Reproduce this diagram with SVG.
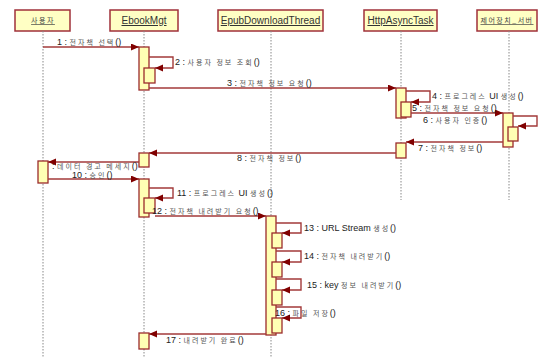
<svg xmlns="http://www.w3.org/2000/svg" width="539" height="357" viewBox="0 0 539 357">
<style>
.hdr{fill:#ffffc4;stroke:#a0303a;stroke-width:1.5}
.hn{font-family:"Liberation Sans",Arial,sans-serif;font-size:10px;fill:#333;text-anchor:middle;text-decoration:underline}
.hk{font-family:"Noto Sans CJK KR",sans-serif;font-size:7px;fill:#444;text-anchor:middle;letter-spacing:1.5px;text-decoration:underline}
.life{stroke:#888;stroke-width:1;stroke-dasharray:1.5,1.5;fill:none}
.act{fill:#ffffb4;stroke:#9b2c2c;stroke-width:1.3}
.msg{stroke:#a33a3a;stroke-width:1.4;fill:none}
.lbl{font-family:"Liberation Sans",Arial,sans-serif;font-size:9px;fill:#222}
.k{font-family:"Noto Sans CJK KR",sans-serif;font-size:7px;fill:#555;letter-spacing:2px}
</style>
<defs>
<marker id="ah" markerUnits="userSpaceOnUse" markerWidth="9" markerHeight="8" refX="8" refY="3.5" orient="auto">
<path d="M0,0 L8,3.5 L0,7 z" fill="#800000"/>
</marker>
</defs>
<rect width="539" height="357" fill="#fff"/>

<g id="node-user">
<rect class="hdr" x="15" y="10" width="55" height="21"/>
<text class="hk" x="43" y="23">사용자</text>
<line class="life" x1="43" y1="31" x2="43" y2="357"/>
<rect class="act" x="38" y="161" width="10" height="22"/>
</g>

<g id="node-ebookmgt">
<rect class="hdr" x="110" y="10" width="68" height="21"/>
<text class="hn" x="144" y="24">EbookMgt</text>
<line class="life" x1="144" y1="31" x2="144" y2="357"/>
<rect class="act" x="139" y="47" width="10" height="43"/>
<rect class="act" x="144" y="68" width="11" height="15"/>
<rect class="act" x="139" y="153" width="10" height="14"/>
<rect class="act" x="139" y="179" width="10" height="38"/>
<rect class="act" x="144" y="198" width="11" height="15"/>
<rect class="act" x="139" y="333" width="10" height="16"/>
</g>

<g id="node-epub">
<rect class="hdr" x="218" y="10" width="105" height="21"/>
<text class="hn" x="270.5" y="24">EpubDownloadThread</text>
<line class="life" x1="271" y1="31" x2="271" y2="357"/>
<rect class="act" x="266" y="216" width="10" height="119"/>
<rect class="act" x="272" y="233" width="10" height="15"/>
<rect class="act" x="272" y="262" width="10" height="15"/>
<rect class="act" x="272" y="290" width="10" height="15"/>
<rect class="act" x="272" y="318" width="10" height="15"/>
</g>

<g id="node-http">
<rect class="hdr" x="364" y="10" width="73" height="21"/>
<text class="hn" x="400.5" y="24">HttpAsyncTask</text>
<line class="life" x1="401" y1="31" x2="401" y2="200"/>
<rect class="act" x="396" y="88" width="10" height="30"/>
<rect class="act" x="401" y="102" width="10" height="15"/>
<rect class="act" x="396" y="143" width="10" height="15"/>
</g>

<g id="node-server">
<rect class="hdr" x="477" y="10" width="60" height="21"/>
<text class="hk" x="507" y="23">제어장치_서버</text>
<line class="life" x1="509" y1="31" x2="509" y2="200"/>
<rect class="act" x="503" y="113" width="10" height="34"/>
<rect class="act" x="508" y="127" width="10" height="14"/>
</g>

<g id="connectors">
<line class="msg" x1="43" y1="47" x2="139" y2="47" marker-end="url(#ah)"/>
<path class="msg" d="M149,57 H173 V68 H155" marker-end="url(#ah)"/>
<line class="msg" x1="149" y1="88" x2="396" y2="88" marker-end="url(#ah)"/>
<path class="msg" d="M406,91 H430 V102 H411" marker-end="url(#ah)"/>
<line class="msg" x1="411" y1="113" x2="503" y2="113" marker-end="url(#ah)"/>
<path class="msg" d="M513,116 H537 V126 H518" marker-end="url(#ah)"/>
<line class="msg" x1="503" y1="142" x2="406" y2="142" marker-end="url(#ah)"/>
<line class="msg" x1="396" y1="153" x2="149" y2="153" marker-end="url(#ah)"/>
<line class="msg" x1="139" y1="162" x2="48" y2="162" marker-end="url(#ah)"/>
<line class="msg" x1="48" y1="179" x2="139" y2="179" marker-end="url(#ah)"/>
<path class="msg" d="M149,188 H173 V198 H155" marker-end="url(#ah)"/>
<line class="msg" x1="155" y1="216" x2="266" y2="216" marker-end="url(#ah)"/>
<path class="msg" d="M276,223 H301 V233 H282" marker-end="url(#ah)"/>
<path class="msg" d="M276,251 H301 V262 H282" marker-end="url(#ah)"/>
<path class="msg" d="M276,279 H301 V290 H282" marker-end="url(#ah)"/>
<path class="msg" d="M276,307 H301 V318 H282" marker-end="url(#ah)"/>
<line class="msg" x1="266" y1="334" x2="149" y2="334" marker-end="url(#ah)"/>
</g>

<g id="labels">
<text class="lbl" x="57" y="45">1 : <tspan class="k">전자책 선택</tspan>()</text>
<text class="lbl" x="175" y="65">2 : <tspan class="k">사용자 정보 조회</tspan>()</text>
<text class="lbl" x="227" y="86">3 : <tspan class="k">전자책 정보 요청</tspan>()</text>
<text class="lbl" x="432" y="99">4 : <tspan class="k">프로그레스</tspan> UI <tspan class="k">생성</tspan>()</text>
<text class="lbl" x="412" y="111">5 : <tspan class="k">전자책 정보 요청</tspan>()</text>
<text class="lbl" x="423" y="123">6 : <tspan class="k">사용자 인증</tspan>()</text>
<text class="lbl" x="418" y="151">7 : <tspan class="k">전자책 정보</tspan>()</text>
<text class="lbl" x="237" y="161">8 : <tspan class="k">전자책 정보</tspan>()</text>
<text class="lbl" x="52" y="168.5">: <tspan class="k">데이터 경고 메세지</tspan>()</text>
<text class="lbl" x="72" y="177.5">10 : <tspan class="k">승인</tspan>()</text>
<text class="lbl" x="177" y="196">11 : <tspan class="k">프로그레스</tspan> UI <tspan class="k">생성</tspan>()</text>
<text class="lbl" x="152" y="214">12 : <tspan class="k">전자책 내려받기 요청</tspan>()</text>
<text class="lbl" x="304" y="231">13 : URL Stream <tspan class="k">생성</tspan>()</text>
<text class="lbl" x="304" y="259">14 : <tspan class="k">전자책 내려받기</tspan>()</text>
<text class="lbl" x="307" y="288">15 : key <tspan class="k">정보 내려받기</tspan>()</text>
<text class="lbl" x="275" y="316">16 : <tspan class="k">파일 저장</tspan>()</text>
<text class="lbl" x="166" y="343">17 : <tspan class="k">내려받기 완료</tspan>()</text>
</g>
</svg>
